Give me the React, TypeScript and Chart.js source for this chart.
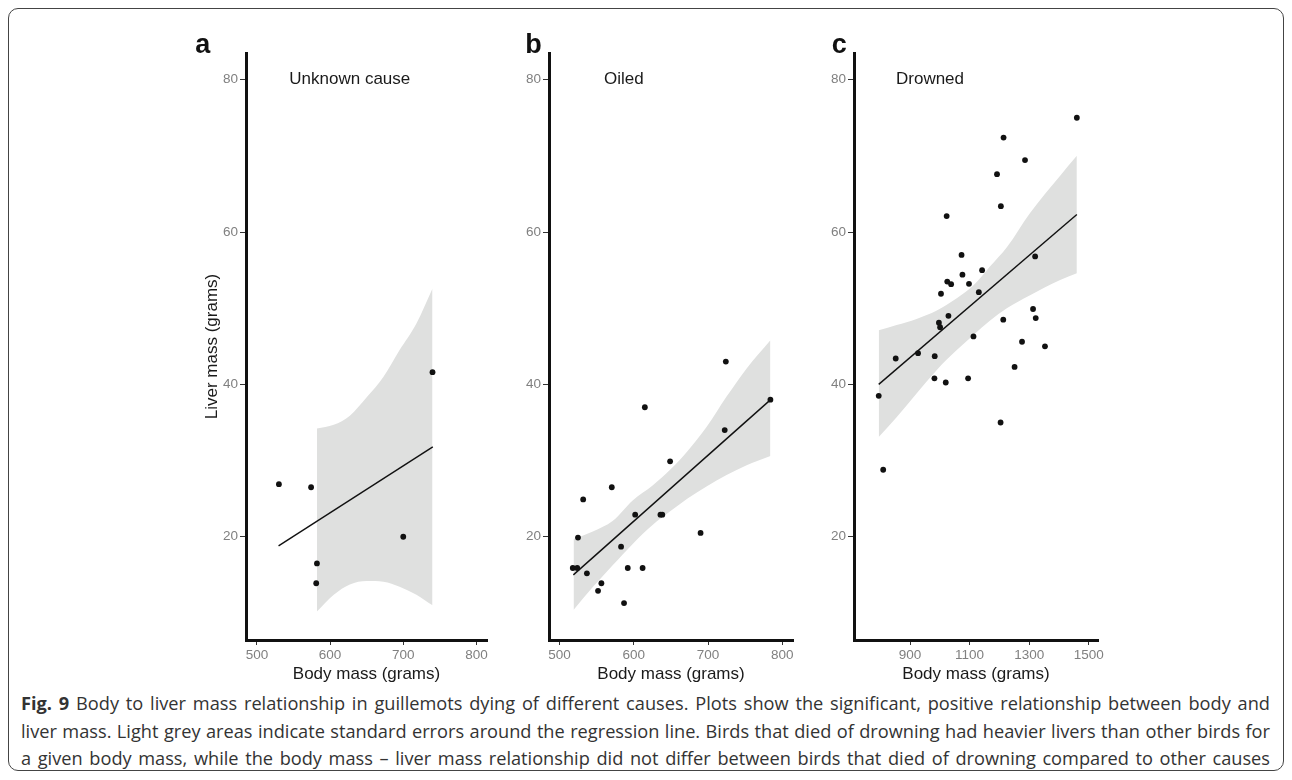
import React, { useEffect, useRef } from 'react';
import { Chart, registerables } from 'chart.js';

Chart.register(...registerables);

// ---------- data ----------
const yTicks = [20, 40, 60, 80];
const xTicksA = [500, 600, 700, 800];
const xTicksB = [500, 600, 700, 800];
const xTicksC = [900, 1100, 1300, 1500];

const bodyA = [530, 574, 582, 581, 700, 740];
const liverA = [26.9, 26.5, 16.5, 13.9, 20.0, 41.6];
const fitXA = [529.5, 740.4];
const fitYA = [18.8, 31.8];
const ribXA = [582, 605, 627, 650, 673, 695, 718, 740];
const ribHiA = [34.2, 34.7, 35.9, 38.3, 41.0, 44.5, 48.0, 52.6];
const ribLoA = [10.2, 12.4, 13.75, 14.2, 14.1, 13.45, 12.4, 11.0];

const bodyB = [518, 524, 525, 532, 537, 552, 556.5, 570.5, 583, 587, 592, 602, 612, 615, 636, 638.5, 649, 690, 722.5, 724, 784];
const liverB = [15.9, 15.9, 19.9, 24.9, 15.2, 12.9, 13.9, 26.5, 18.7, 11.3, 15.9, 22.9, 15.9, 37.0, 22.9, 22.9, 29.9, 20.5, 34.0, 43.0, 38.0];
const fitXB = [518.8, 784.3];
const fitYB = [15.0, 38.0];
const ribXB = [519, 545, 572, 599, 625, 650, 672, 698, 725, 752, 784];
const ribHiB = [19.7, 20.7, 22.1, 24.8, 26.7, 28.9, 31.2, 34.4, 38.4, 42.1, 45.8];
const ribLoB = [10.4, 13.4, 16.3, 19.1, 21.5, 23.4, 25.0, 26.6, 28.1, 29.4, 30.6];

const bodyC = [795, 810, 852, 927, 982, 983, 997, 1001, 1004, 1020, 1025, 1038, 1029, 1073, 1076, 1095, 1098, 1113, 1131, 1142, 1204, 1213, 1251, 1276, 1313, 1322, 1320, 1353, 1023, 1214, 1192, 1205, 1286, 1460];
const liverC = [38.5, 28.8, 43.4, 44.1, 40.8, 43.7, 48.1, 47.5, 51.9, 40.25, 53.5, 53.15, 49.0, 57.0, 54.4, 40.8, 53.2, 46.3, 52.1, 55.0, 35.0, 48.5, 42.3, 45.6, 49.9, 48.7, 56.8, 45.0, 62.1, 72.4, 67.6, 63.4, 69.45, 75.0];
const fitXC = [795, 1460];
const fitYC = [40.0, 62.3];
const ribXC = [795, 855, 922, 990, 1057, 1113, 1169, 1225, 1303, 1404, 1460];
const ribHiC = [47.1, 47.8, 48.6, 49.7, 51.3, 53.0, 55.5, 58.0, 62.5, 67.4, 70.0];
const ribLoC = [33.1, 35.7, 38.8, 41.9, 44.5, 46.5, 48.4, 50.0, 51.7, 53.7, 54.6];

const facetTitles = ['Unknown cause', 'Oiled', 'Drowned'];
const panelLetters = ['a', 'b', 'c'];
const yTitle = 'Liver mass (grams)';
const xTitle = 'Body mass (grams)';

const captionBold = 'Fig. 9';
const captionLines = [
  ' Body to liver mass relationship in guillemots dying of different causes. Plots show the significant, positive relationship between body and',
  'liver mass. Light grey areas indicate standard errors around the regression line. Birds that died of drowning had heavier livers than other birds for',
  'a given body mass, while the body mass \u2013 liver mass relationship did not differ between birds that died of drowning compared to other causes',
];

const zip = (xs: number[], ys: number[]) => xs.map((x, i) => ({ x, y: ys[i] }));

const FONT = "'Liberation Sans', Arial, Helvetica, sans-serif";
const RIBBON = '#dfe0df';

type PanelCfg = {
  left: number; top: number; width: number; height: number;
  yAxisWidth: number; padRight: number;
  xMin: number; xMax: number; xTicks: number[];
  body: number[]; liver: number[];
  fitX: number[]; fitY: number[];
  ribX: number[]; ribHi: number[]; ribLo: number[];
  title: string; titleOffset: number;
  letter: string; letterGap: number;
  showYTitle: boolean;
};

function Panel({ cfg }: { cfg: PanelCfg }) {
  const ref = useRef<HTMLCanvasElement>(null);
  useEffect(() => {
    if (!ref.current) return;
    const labelsPlugin = {
      id: 'labels',
      afterDraw(chart: any) {
        const { ctx, chartArea, scales } = chart;
        ctx.save();
        ctx.fillStyle = '#1a1a1a';
        ctx.font = `17px ${FONT}`;
        ctx.textAlign = 'left';
        ctx.textBaseline = 'middle';
        ctx.fillText(cfg.title, chartArea.left + cfg.titleOffset, scales.y.getPixelForValue(80));
        ctx.font = `bold 27px ${FONT}`;
        ctx.fillStyle = '#111';
        ctx.textAlign = 'right';
        ctx.textBaseline = 'alphabetic';
        ctx.fillText(cfg.letter, chartArea.left - cfg.letterGap, 52.5 - cfg.top);
        ctx.restore();
      },
    };
    const chart = new Chart(ref.current, {
      type: 'line',
      data: {
        datasets: [
          {
            data: zip(cfg.body, cfg.liver),
            showLine: false,
            pointRadius: 2.9,
            pointBackgroundColor: '#111',
            pointBorderWidth: 0,
            borderColor: '#111',
          },
          {
            data: zip(cfg.fitX, cfg.fitY),
            borderColor: '#111',
            borderWidth: 1.4,
            pointRadius: 0,
            fill: false,
          },
          {
            data: zip(cfg.ribX, cfg.ribHi),
            borderWidth: 0,
            borderColor: 'rgba(0,0,0,0)',
            pointRadius: 0,
            backgroundColor: RIBBON,
            fill: 3,
            tension: 0.4,
            cubicInterpolationMode: 'monotone',
          },
          {
            data: zip(cfg.ribX, cfg.ribLo),
            borderWidth: 0,
            borderColor: 'rgba(0,0,0,0)',
            pointRadius: 0,
            fill: false,
            tension: 0.4,
            cubicInterpolationMode: 'monotone',
          },
        ] as any,
      },
      options: {
        animation: false,
        responsive: false,
        events: [],
        layout: { padding: { top: 53 - cfg.top, right: cfg.padRight, bottom: 0, left: 0 } },
        plugins: {
          legend: { display: false },
          tooltip: { enabled: false },
        },
        scales: {
          x: {
            type: 'linear',
            min: cfg.xMin,
            max: cfg.xMax,
            afterBuildTicks: (s: any) => { s.ticks = cfg.xTicks.map((v) => ({ value: v })); },
            afterFit: (s: any) => { s.height = 50; },
            grid: { display: true, drawOnChartArea: false, drawTicks: true, tickLength: 5, color: '#333', lineWidth: 1 },
            border: { display: true, width: 3, color: '#111' },
            ticks: {
              color: '#808080', font: { family: FONT, size: 13.5 }, padding: 2, maxRotation: 0, autoSkip: false,
              callback: (v: any) => String(v),
            },
            title: { display: true, text: xTitle, color: '#1a1a1a', font: { family: FONT, size: 17 }, padding: { top: 0, bottom: 5 } },
          },
          y: {
            type: 'linear',
            min: 6.45,
            max: 83.5,
            afterBuildTicks: (s: any) => { s.ticks = yTicks.map((v) => ({ value: v })); },
            afterFit: (s: any) => { s.width = cfg.yAxisWidth; },
            grid: { display: true, drawOnChartArea: false, drawTicks: true, tickLength: 6, color: '#333', lineWidth: 1 },
            border: { display: true, width: 3, color: '#111' },
            ticks: { color: '#808080', font: { family: FONT, size: 13.5 }, padding: 2, autoSkip: false, callback: (v: any) => String(v) },
            title: { display: cfg.showYTitle, text: yTitle, color: '#1a1a1a', font: { family: FONT, size: 17 }, padding: { top: 21.8, bottom: 0 } },
          },
        },
      } as any,
      plugins: [labelsPlugin],
    });
    return () => chart.destroy();
  }, [cfg]);
  return (
    <canvas
      ref={ref}
      width={cfg.width}
      height={cfg.height}
      style={{ position: 'absolute', left: cfg.left - 8, top: cfg.top - 8, width: cfg.width, height: cfg.height }}
    />
  );
}

const panelA: PanelCfg = {
  left: 180, top: 20, width: 320, height: 670, yAxisWidth: 66, padRight: 13,
  xMin: 485, xMax: 814.5, xTicks: xTicksA,
  body: bodyA, liver: liverA, fitX: fitXA, fitY: fitYA, ribX: ribXA, ribHi: ribHiA, ribLo: ribLoA,
  title: facetTitles[0], titleOffset: 43.3, letter: panelLetters[0], letterGap: 35.7, showYTitle: true,
};
const panelB: PanelCfg = {
  left: 500, top: 20, width: 305, height: 670, yAxisWidth: 49, padRight: 12,
  xMin: 486, xMax: 814.4, xTicks: xTicksB,
  body: bodyB, liver: liverB, fitX: fitXB, fitY: fitYB, ribX: ribXB, ribHi: ribHiB, ribLo: ribLoB,
  title: facetTitles[1], titleOffset: 55, letter: panelLetters[1], letterGap: 7.3, showYTitle: false,
};
const panelC: PanelCfg = {
  left: 800, top: 20, width: 310, height: 670, yAxisWidth: 54, padRight: 12,
  xMin: 712, xMax: 1531, xTicks: xTicksC,
  body: bodyC, liver: liverC, fitX: fitXC, fitY: fitYC, ribX: ribXC, ribHi: ribHiC, ribLo: ribLoC,
  title: facetTitles[2], titleOffset: 42, letter: panelLetters[2], letterGap: 7.3, showYTitle: false,
};

const lineStyle: React.CSSProperties = {
  position: 'absolute', left: 13, width: 1249, height: 22, lineHeight: '22px',
  whiteSpace: 'nowrap', textAlign: 'justify', textAlignLast: 'justify' as any,
  fontFamily: "'Open Sans', 'Noto Sans', sans-serif", fontSize: 18.2, color: '#333',
};

export default function App() {
  return (
    <div style={{ position: 'relative', width: 1276, height: 764 }}>
      <div
        style={{
          position: 'absolute', left: 0, top: 0, width: 1276, height: 763,
          boxSizing: 'border-box', border: '1.5px solid #444', borderRadius: 10,
        }}
      />
      <Panel cfg={panelA} />
      <Panel cfg={panelB} />
      <Panel cfg={panelC} />
      <div style={{ ...lineStyle, top: 684 }}><b>{captionBold}</b>{captionLines[0]}</div>
      <div style={{ ...lineStyle, top: 712 }}>{captionLines[1]}</div>
      <div style={{ ...lineStyle, top: 739 }}>{captionLines[2]}</div>
    </div>
  );
}
